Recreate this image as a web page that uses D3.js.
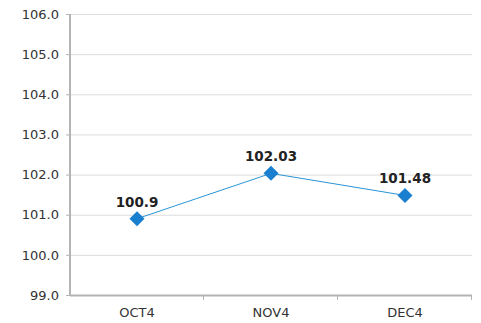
<!DOCTYPE html>
<html>
<head>
<meta charset="utf-8">
<script src="https://cdn.jsdelivr.net/npm/d3@7/dist/d3.min.js"></script>
<style>
  html, body { margin: 0; padding: 0; background: #fff; }
  svg { display: block; }
  text { font-family: "DejaVu Sans", Verdana, sans-serif; }
</style>
</head>
<body>
<svg id="chart" width="481" height="323"></svg>
<script>
// Index values by period
const categories = ["OCT4", "NOV4", "DEC4"];
const values = [100.9, 102.03, 101.48];
const valueLabels = ["100.9", "102.03", "101.48"];
const yTicks = [99, 100, 101, 102, 103, 104, 105, 106];

const width = 481, height = 323;
const margin = { top: 14, right: 9, bottom: 28, left: 70 };
const svg = d3.select("#chart");

const x = d3.scaleBand()
  .domain(categories)
  .range([margin.left, width - margin.right])
  .paddingInner(0).paddingOuter(0);

const y = d3.scaleLinear()
  .domain([99, 106])
  .range([height - margin.bottom, margin.top]);

// horizontal gridlines
svg.append("g")
  .selectAll("line")
  .data(yTicks.filter(d => d !== 99))
  .join("line")
  .attr("x1", margin.left)
  .attr("x2", width - margin.right)
  .attr("y1", d => y(d) + 0.5)
  .attr("y2", d => y(d) + 0.5)
  .attr("stroke", "#dcdcdc")
  .attr("stroke-width", 1);

// y axis
const yAxis = svg.append("g")
  .attr("transform", `translate(${margin.left},0)`)
  .call(d3.axisLeft(y).tickValues(yTicks).tickFormat(d3.format(".1f")).tickSize(4).tickPadding(7));
yAxis.select(".domain").attr("stroke", "#b4b4b4").attr("stroke-width", 2)
  .attr("d", `M0,${margin.top}V${height - margin.bottom}`);
yAxis.selectAll(".tick line").attr("stroke", "#b4b4b4");
yAxis.selectAll(".tick text")
  .attr("fill", "#333")
  .style("font-size", "13px");

// x axis with ticks at category boundaries
const xg = svg.append("g")
  .attr("transform", `translate(0,${height - margin.bottom})`);
xg.append("line")
  .attr("x1", margin.left).attr("x2", width - margin.right)
  .attr("y1", 0.5).attr("y2", 0.5)
  .attr("stroke", "#b4b4b4").attr("stroke-width", 2);
const bounds = categories.map(c => x(c)).concat([x(categories[categories.length - 1]) + x.bandwidth()]);
xg.selectAll("line.tk")
  .data(bounds.slice(1))
  .join("line")
  .attr("class", "tk")
  .attr("x1", d => d - 0.5).attr("x2", d => d - 0.5)
  .attr("y1", 0).attr("y2", 5)
  .attr("stroke", "#b4b4b4");
xg.selectAll("text")
  .data(categories)
  .join("text")
  .attr("x", d => x(d) + x.bandwidth() / 2)
  .attr("y", 21.5)
  .attr("text-anchor", "middle")
  .attr("fill", "#333")
  .style("font-size", "13px")
  .text(d => d);

const pts = categories.map((c, i) => ({ c, v: values[i], label: valueLabels[i] }));
const cx = d => x(d.c) + x.bandwidth() / 2;

// series line
svg.append("path")
  .datum(pts)
  .attr("fill", "none")
  .attr("stroke", "#2b95d6")
  .attr("stroke-width", 1)
  .attr("d", d3.line().x(cx).y(d => y(d.v)));

// diamond markers
svg.append("g")
  .selectAll("path")
  .data(pts)
  .join("path")
  .attr("transform", d => `translate(${cx(d)},${y(d.v)})`)
  .attr("d", "M0,-7.5L7.5,0L0,7.5L-7.5,0Z")
  .attr("fill", "#1a7fcf");

// value labels
svg.append("g")
  .selectAll("text")
  .data(pts)
  .join("text")
  .attr("x", cx)
  .attr("y", d => y(d.v) - 12)
  .attr("text-anchor", "middle")
  .attr("fill", "#222")
  .style("font-size", "13.5px")
  .style("font-weight", "bold")
  .text(d => d.label);
</script>
</body>
</html>
